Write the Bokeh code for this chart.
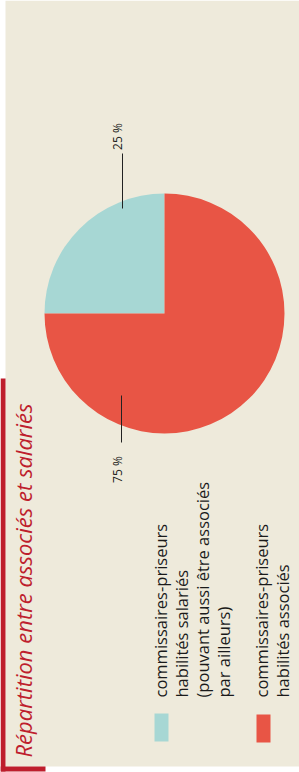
import math
from bokeh.plotting import figure
from bokeh.models import Range1d
from bokeh.embed import file_html
from bokeh.resources import INLINE
from bokeh.core.properties import value

# ---- data ----
title_text = "Répartition entre associés et salariés"
categories = ["salariés", "associés"]
shares = [25, 75]
share_labels = ["25 %", "75 %"]
legend_lines = [
    ["commissaires-priseurs", "habilités salariés", "(pouvant aussi être associés", "par ailleurs)"],
    ["commissaires-priseurs", "habilités associés"],
]
colors = ["#A7D7D4", "#E85545"]

BEIGE = "#EEEADB"
CRIMSON = "#BE1E2D"
W, H = 299, 772


def sy(y):
    return H - y


p = figure(width=W, height=H, x_range=Range1d(0, W), y_range=Range1d(0, H),
           output_backend="svg", toolbar_location=None, min_border=0,
           x_axis_type=None, y_axis_type=None,
           background_fill_color="white", border_fill_color="white",
           outline_line_color=None)
p.grid.visible = False

# background panel and crimson frame
p.quad(left=[5], right=[W], bottom=[sy(766)], top=[sy(0)], color=BEIGE, line_color=None)
p.quad(left=[0], right=[5], bottom=[sy(771)], top=[sy(378)], color=CRIMSON, line_color=None)
p.quad(left=[0], right=[45], bottom=[sy(771)], top=[sy(766)], color=CRIMSON, line_color=None)

# title
p.text(x=[22], y=[sy(757)], text=[title_text], angle=math.pi / 2,
       text_align="left", text_baseline="alphabetic",
       text_font=value("Open Sans"), text_font_style="italic",
       text_font_size="22px", text_color=CRIMSON)

# pie
total = sum(shares)
starts, ends = [], []
acc = 0.0
for s in shares:
    starts.append(math.pi / 2 + 2 * math.pi * acc / total)
    acc += s
    ends.append(math.pi / 2 + 2 * math.pi * acc / total)
cx, cy, r = 164, sy(313), 120
p.wedge(x=cx, y=cy, radius=r, start_angle=starts, end_angle=ends,
        fill_color=colors, line_color=None)

# share labels with leader lines
lab_y = [sy(136), sy(469)]
line_x = [122, 121]
line_y0 = [sy(153), sy(395)]
line_y1 = [sy(208), sy(442)]
p.segment(x0=line_x, y0=line_y0, x1=line_x, y1=line_y1, line_color="#222222", line_width=1)
p.text(x=[117, 117], y=lab_y, text=share_labels, angle=math.pi / 2,
       text_align="center", text_baseline="alphabetic",
       text_font=value("Open Sans"), text_font_size="12px", text_color="#1a1a1a")

# legend (manual, rotated)
sw_x = [161, 263]
sw_y = [sy(727), sy(728)]
p.rect(x=sw_x, y=sw_y, width=14, height=28, fill_color=colors, line_color=None)
first_base = [160, 261]
for i, lines in enumerate(legend_lines):
    xs = [first_base[i] + 21 * k for k in range(len(lines))]
    p.text(x=xs, y=[sy(697)] * len(lines), text=lines, angle=math.pi / 2,
           text_align="left", text_baseline="alphabetic",
           text_font=value("Open Sans"), text_font_size="16.5px", text_color="#1a1a1a")

open("out.html", "w").write(file_html(p, INLINE))
